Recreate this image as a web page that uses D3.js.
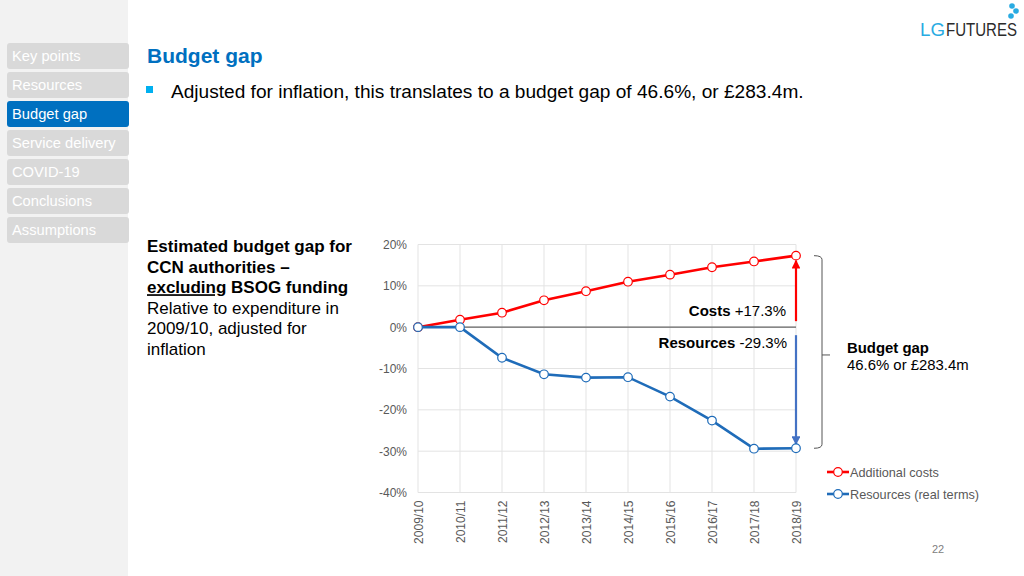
<!DOCTYPE html>
<html><head><meta charset="utf-8">
<script src="https://cdn.jsdelivr.net/npm/d3@7"></script>
<style>
body{margin:0;background:#fff;font-family:"Liberation Sans",Arial,sans-serif;}
svg text{font-family:"Liberation Sans",Arial,sans-serif;}
</style></head>
<body>
<svg id="c" width="1024" height="576"></svg>
<script>
const categories = ["2009/10","2010/11","2011/12","2012/13","2013/14","2014/15","2015/16","2016/17","2017/18","2018/19"];
const costs = [0, 1.8, 3.5, 6.5, 8.7, 11.0, 12.7, 14.5, 15.9, 17.3];
const resources = [0, 0, -7.4, -11.4, -12.2, -12.1, -16.8, -22.6, -29.4, -29.3];
const yTicks = [20, 10, 0, -10, -20, -30, -40];
const navItems = ["Key points","Resources","Budget gap","Service delivery","COVID-19","Conclusions","Assumptions"];
const activeNav = "Budget gap";

const svg = d3.select("#c");
// sidebar
svg.append("rect").attr("x",0).attr("y",0).attr("width",128).attr("height",576).attr("fill","#f2f2f2");
navItems.forEach((n,i)=>{
  const y = 43 + i*29;
  svg.append("rect").attr("x",7).attr("y",y).attr("width",122).attr("height",26).attr("rx",3)
    .attr("fill", n===activeNav ? "#0070c0" : "#d9d9d9");
  svg.append("text").attr("x",12).attr("y",y+18).attr("font-size",14.7).attr("fill","#fff").text(n);
});

// title
svg.append("text").attr("x",147).attr("y",63).attr("font-size",21).attr("font-weight","bold").attr("fill","#0070c0").text("Budget gap");
svg.append("rect").attr("x",146).attr("y",86).attr("width",7).attr("height",7).attr("fill","#00b0f0");
svg.append("text").attr("x",171).attr("y",98).attr("font-size",19.1).attr("fill","#000")
  .text("Adjusted for inflation, this translates to a budget gap of 46.6%, or £283.4m.");

// logo
svg.append("text").attr("x",920).attr("y",36).attr("font-size",19).attr("fill","#29abe2")
  .attr("textLength",25).attr("lengthAdjust","spacingAndGlyphs").text("LG");
svg.append("text").attr("x",946).attr("y",36).attr("font-size",18)
  .attr("fill","#2b2b2b")
  .attr("textLength",71).attr("lengthAdjust","spacingAndGlyphs").text("FUTURES");
[[1012,6],[1016,11],[1011,16]].forEach(p=>svg.append("circle").attr("cx",p[0]).attr("cy",p[1]).attr("r",2.8).attr("fill","#29abe2"));

// left text block
const lines = [
  [{t:"Estimated budget gap for",b:1}],
  [{t:"CCN authorities –",b:1}],
  [{t:"excluding",b:1,u:1},{t:" BSOG funding",b:1}],
  [{t:"Relative to expenditure in"}],
  [{t:"2009/10, adjusted for"}],
  [{t:"inflation"}]
];
lines.forEach((ln,i)=>{
  const t = svg.append("text").attr("x",147).attr("y",252+i*20.6).attr("font-size",17).attr("fill","#000");
  ln.forEach(s=>t.append("tspan").attr("font-weight",s.b?"bold":"normal").attr("text-decoration",s.u?"underline":"none").text(s.t));
});

// chart
const x = d3.scalePoint().domain(categories).range([418,796]);
const y = d3.scaleLinear().domain([-40,20]).range([492.5,244.5]);
const g = svg.append("g");
// grid
g.selectAll(".hg").data(yTicks).enter().append("line")
  .attr("x1",418).attr("x2",796).attr("y1",d=>y(d)).attr("y2",d=>y(d))
  .attr("stroke","#e3e3e3").attr("stroke-width",1);
g.selectAll(".vg").data(categories).enter().append("line")
  .attr("x1",d=>x(d)).attr("x2",d=>x(d)).attr("y1",y(20)).attr("y2",y(-40))
  .attr("stroke","#e3e3e3").attr("stroke-width",1);
g.append("line").attr("x1",418).attr("x2",796).attr("y1",y(0)).attr("y2",y(0)).attr("stroke","#666").attr("stroke-width",1.2);
// axes labels
const ya = d3.axisLeft(y).tickValues(yTicks).tickFormat(d=>d+"%").tickSize(0).tickPadding(11);
const yg = svg.append("g").attr("transform","translate(418,0)").call(ya);
yg.select(".domain").remove();
yg.selectAll("text").attr("font-size",12).attr("fill","#595959");
const xa = d3.axisBottom(x).tickSize(0).tickPadding(0);
const xg = svg.append("g").attr("transform","translate(0,"+y(-40)+")").call(xa);
xg.select(".domain").remove();
xg.selectAll("text").attr("font-size",12).attr("fill","#595959")
  .attr("transform","rotate(-90)").attr("text-anchor","end").attr("dy","0.35em").attr("x",-8).attr("y",0);

// arrows
const defs = svg.append("defs");
function marker(id,col){
  defs.append("marker").attr("id",id).attr("viewBox","0 0 10 10").attr("refX",9).attr("refY",5)
    .attr("markerWidth",4).attr("markerHeight",4).attr("orient","auto")
    .append("path").attr("d","M0,0L10,5L0,10z").attr("fill",col);
}
marker("ar","#ff0000"); marker("ab","#4472c4");
const xl = x(categories[categories.length-1]);
svg.append("line").attr("x1",xl).attr("x2",xl).attr("y1",y(0)-6).attr("y2",y(costs[costs.length-1])+5)
  .attr("stroke","#ff0000").attr("stroke-width",2.2).attr("marker-end","url(#ar)");
svg.append("line").attr("x1",xl).attr("x2",xl).attr("y1",y(0)+8).attr("y2",y(resources[resources.length-1])-4)
  .attr("stroke","#4472c4").attr("stroke-width",2.2).attr("marker-end","url(#ab)");

// lines
const line = d3.line().x((d,i)=>x(categories[i])).y(d=>y(d));
function series(data,col){
  svg.append("path").datum(data).attr("d",line).attr("fill","none").attr("stroke",col).attr("stroke-width",2.6);
  svg.selectAll(null).data(data).enter().append("circle")
    .attr("cx",(d,i)=>x(categories[i])).attr("cy",d=>y(d)).attr("r",4.3)
    .attr("fill","#fff").attr("stroke",col).attr("stroke-width",1.2);
}
series(costs,"#ff0000");
series(resources,"#1f6cb9");

// annotations
const ct = svg.append("text").attr("x",786).attr("y",316).attr("text-anchor","end").attr("font-size",15).attr("fill","#000");
ct.append("tspan").attr("font-weight","bold").text("Costs");
ct.append("tspan").text(" +17.3%");
const rt = svg.append("text").attr("x",787).attr("y",348).attr("text-anchor","end").attr("font-size",15).attr("fill","#000");
rt.append("tspan").attr("font-weight","bold").text("Resources");
rt.append("tspan").text(" -29.3%");

// bracket
const bt = y(costs[costs.length-1]), bb = y(resources[resources.length-1]), bm = (bt+bb)/2+3;
svg.append("path").attr("d",`M814,${bt}Q822,${bt} 822,${bt+4}L822,${bb-4}Q822,${bb} 814,${bb}M822,${bm}L830,${bm}`)
  .attr("fill","none").attr("stroke","#555").attr("stroke-width",1);
svg.append("text").attr("x",847).attr("y",353).attr("font-size",14.9).attr("font-weight","bold").text("Budget gap");
svg.append("text").attr("x",847).attr("y",370).attr("font-size",14.9).text("46.6% or £283.4m");

// legend
[["Additional costs","#ff0000",472],["Resources (real terms)","#1f6cb9",494]].forEach(l=>{
  svg.append("line").attr("x1",827).attr("x2",849).attr("y1",l[2]).attr("y2",l[2]).attr("stroke",l[1]).attr("stroke-width",2.6);
  svg.append("circle").attr("cx",838).attr("cy",l[2]).attr("r",4.3).attr("fill","#fff").attr("stroke",l[1]).attr("stroke-width",1.2);
  svg.append("text").attr("x",850).attr("y",l[2]+4.5).attr("font-size",12.7).attr("fill","#595959").text(l[0]);
});

svg.append("text").attr("x",938).attr("y",553).attr("text-anchor","middle").attr("font-size",11).attr("fill","#808080").text("22");
</script>
</body></html>
